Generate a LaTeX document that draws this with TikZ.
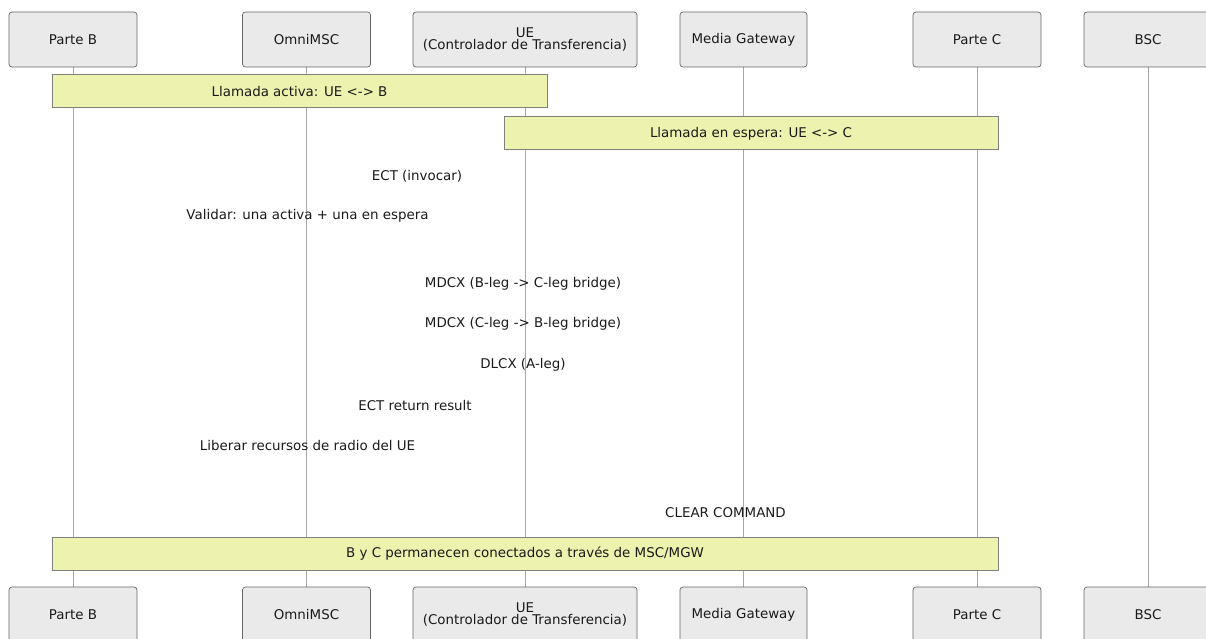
\documentclass[tikz,border=0pt]{standalone}
\usepackage{fontspec}
\setmainfont{DejaVu Sans}
\definecolor{actfill}{HTML}{EAEAEA}
\definecolor{actdraw}{HTML}{666666}
\definecolor{notefill}{HTML}{EDF2AE}
\definecolor{notedraw}{HTML}{808080}
\definecolor{lifeline}{HTML}{A8A8A8}
\definecolor{txt}{HTML}{1A1A1A}
\pgfdeclarelayer{bg}
\pgfsetlayers{bg,main}
\begin{document}
\begin{tikzpicture}[x=1pt,y=-1pt,
  actor/.style={draw=actdraw, fill=actfill, rounded corners=3pt, line width=0.7pt, minimum height=55pt, inner sep=0pt, align=center, font=\fontsize{13.4}{12.5}\selectfont, text=txt},
  notebox/.style={draw=notedraw, fill=notefill, line width=1pt, minimum height=33pt, inner sep=0pt, font=\fontsize{13.4}{14}\selectfont, text=txt},
  msg/.style={font=\fontsize{13.4}{14}\selectfont, text=txt, inner sep=0pt},
  life/.style={draw=lifeline, line width=0.8pt}]
\useasboundingbox (0,0) rectangle (1206,639);
\clip (0,0) rectangle (1206,639);
% top actors
\node[actor, minimum width=128pt] (tB) at (73,39.5) {Parte B};
\node[actor, minimum width=128pt] (tM) at (306.5,39.5) {OmniMSC};
\node[actor, minimum width=224pt] (tU) at (525,39.5) {UE\\(Controlador de Transferencia)};
\node[actor, minimum width=127pt] (tG) at (743.5,39.5) {Media Gateway};
\node[actor, minimum width=128pt] (tC) at (977,39.5) {Parte C};
\node[actor, minimum width=128pt] (tS) at (1148,39.5) {BSC};
% bottom actors
\node[actor, minimum width=128pt] (bB) at (73,614.5) {Parte B};
\node[actor, minimum width=128pt] (bM) at (306.5,614.5) {OmniMSC};
\node[actor, minimum width=224pt] (bU) at (525,614.5) {UE\\(Controlador de Transferencia)};
\node[actor, minimum width=127pt] (bG) at (743.5,614.5) {Media Gateway};
\node[actor, minimum width=128pt] (bC) at (977,614.5) {Parte C};
\node[actor, minimum width=128pt] (bS) at (1148,614.5) {BSC};
% lifelines
\begin{pgfonlayer}{bg}
\draw[life] (tB.south) -- (bB.north);
\draw[life] (tM.south) -- (bM.north);
\draw[life] (tU.south) -- (bU.north);
\draw[life] (tG.south) -- (bG.north);
\draw[life] (tC.south) -- (bC.north);
\draw[life] (tS.south) -- (bS.north);
\end{pgfonlayer}
% notes
\node[notebox, minimum width=495pt] (n1) at (299.5,91.5) {Llamada activa: UE <-> B};
\node[notebox, minimum width=494pt] (n2) at (751,133.5) {Llamada en espera: UE <-> C};
\node[notebox, minimum width=946pt] (n3) at (525,553.5) {B y C permanecen conectados a través de MSC/MGW};
% messages
\node[msg] (m1) at (417,176) {ECT (invocar)};
\node[msg] (m2) at (307.5,216) {Validar: una activa + una en espera};
\node[msg] (m3) at (523,284) {MDCX (B-leg -> C-leg bridge)};
\node[msg] (m4) at (523,324) {MDCX (C-leg -> B-leg bridge)};
\node[msg] (m5) at (523,365) {DLCX (A-leg)};
\node[msg] (m6) at (415,406) {ECT return result};
\node[msg] (m7) at (307.5,446) {Liberar recursos de radio del UE};
\node[msg] (m8) at (725.5,513) {CLEAR COMMAND};
\end{tikzpicture}
\end{document}
